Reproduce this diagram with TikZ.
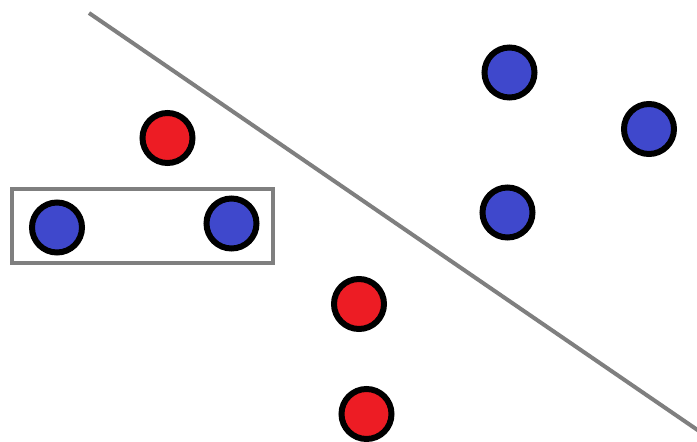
\documentclass[tikz,border=0pt]{standalone}
\usetikzlibrary{positioning}
\definecolor{dotblue}{HTML}{3F48CC}
\definecolor{dotred}{HTML}{ED1C24}
\definecolor{sepgray}{HTML}{7F7F7F}
\tikzset{
  posdot/.style={circle, draw=black, fill=dotblue, line width=6pt, minimum size=50pt, inner sep=0pt},
  negdot/.style={circle, draw=black, fill=dotred, line width=6pt, minimum size=50pt, inner sep=0pt},
  pairbox/.style={rectangle, draw=sepgray, line width=3.5pt, minimum width=261pt, minimum height=74pt, inner sep=0pt},
  boundary/.style={draw=sepgray, line width=4pt}
}

\begin{document}
\begin{tikzpicture}[x=1pt, y=-1pt]
  \useasboundingbox (0,0) rectangle (697,442);

  % separating line
  \coordinate (Ltop) at (89,13);
  \coordinate (Lbot) at (699,431);
  \draw[boundary] (Ltop) -- (Lbot);

  % box round the two blue points on the left
  \node[pairbox] (Box) at (142.5,226) {};

  % blue points
  \node[posdot] (B1) at (509.5,72.5) {};
  \node[posdot] (B2) at (649,129) {};
  \node[posdot] (B3) at (507.5,212.5) {};
  \node[posdot] (B4) at (57,227.5) {};
  \node[posdot] (B5) at (231.5,223.5) {};

  % red points
  \node[negdot] (R1) at (167.5,138) {};
  \node[negdot] (R2) at (359,304) {};
  \node[negdot] (R3) at (366.5,414) {};
\end{tikzpicture}
\end{document}
